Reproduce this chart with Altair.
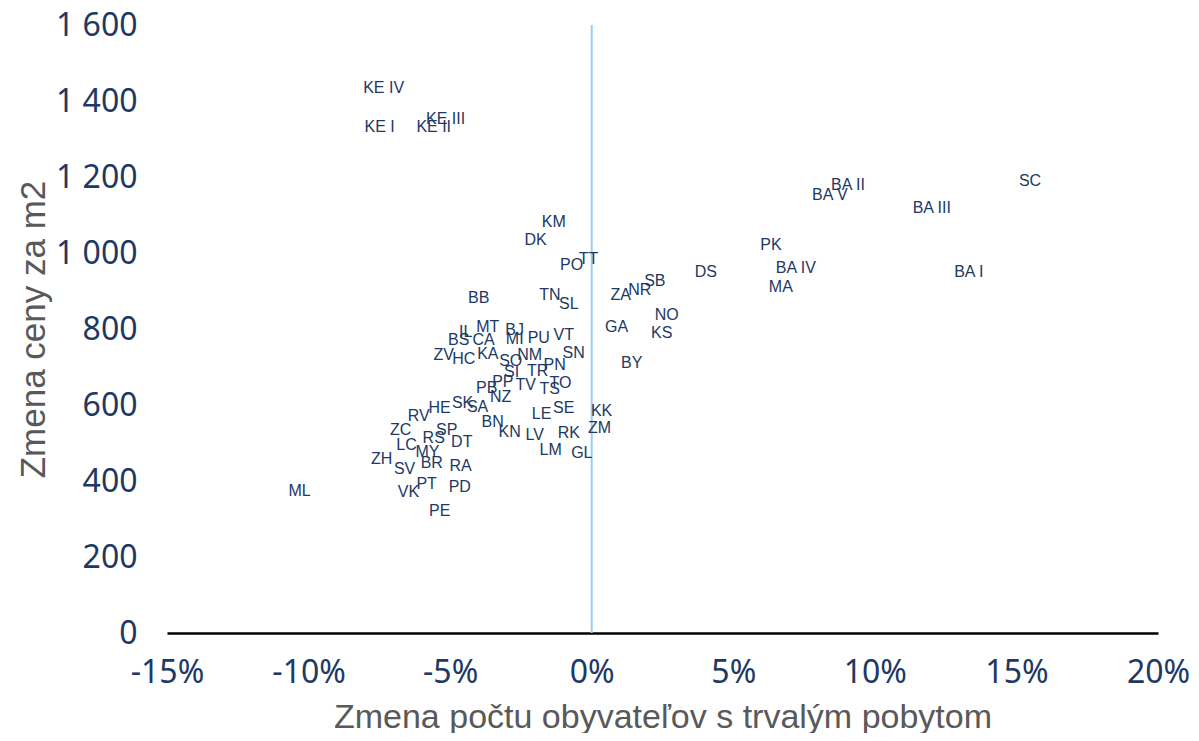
import altair as alt
import pandas as pd

labels = ["KE IV","KE I","KE III","KE II","SC","BA II","BA V","BA III","KM","DK","PK","TT","PO","DS","BA IV","BA I","MA","SB","NR","ZA","TN","SL","BB","NO","GA","KS","MT","BJ","IL","VT","BS","CA","MI","PU","SN","ZV","HC","KA","NM","SO","BY","PN","SI","TR","PP","TO","TV","PB","TS","NZ","SK","SA","HE","SE","KK","RV","LE","BN","ZM","ZC","SP","KN","RK","LV","RS","DT","LC","MY","LM","GL","ZH","BR","RA","SV","PT","PD","ML","VK","PE"]
pop_change = [-7.35,-7.49,-5.16,-5.58,15.48,9.05,8.41,12.01,-1.34,-1.98,6.33,-0.11,-0.71,4.03,7.21,13.32,6.68,2.23,1.70,1.02,-1.48,-0.81,-3.99,2.65,0.88,2.47,-3.67,-2.72,-4.45,-0.99,-4.70,-3.82,-2.72,-1.87,-0.64,-5.23,-4.52,-3.67,-2.19,-2.86,1.41,-1.31,-2.83,-1.91,-3.14,-1.10,-2.33,-3.71,-1.48,-3.22,-4.56,-4.03,-5.37,-0.99,0.35,-6.11,-1.77,-3.50,0.28,-6.75,-5.12,-2.90,-0.81,-2.01,-5.58,-4.59,-6.54,-5.80,-1.45,-0.35,-7.42,-5.65,-4.63,-6.61,-5.83,-4.66,-10.32,-6.47,-5.37]
price_change = [1434,1332,1353,1332,1189,1179,1153,1118,1082,1034,1021,984,968,950,961,950,911,926,903,889,889,866,882,837,805,789,805,797,792,784,771,771,774,776,737,732,721,734,732,716,711,705,687,689,661,658,653,645,642,621,605,595,592,592,584,571,576,555,539,534,534,529,526,521,513,503,495,476,482,474,458,447,439,432,392,384,374,371,321]

df = pd.DataFrame({"label": labels, "x": [v / 100 for v in pop_change], "y": price_change})

NAVY = "#203864"
FONT = "Liberation Sans"
TICKFONT = "Noto Sans"

xscale = alt.Scale(domain=[-0.15, 0.20], nice=False, zero=False)
yscale = alt.Scale(domain=[0, 1600], nice=False)

base = alt.Chart(df)

text = base.mark_text(fontSize=16, font=FONT, color=NAVY, align="center", baseline="middle").encode(
    x=alt.X("x:Q", scale=xscale, axis=alt.Axis(
        title="Zmena počtu obyvateľov s trvalým pobytom",
        values=[-0.15, -0.10, -0.05, 0, 0.05, 0.10, 0.15, 0.20],
        labelExpr="replace(format(datum.value, '.0%'), '−', '-')",
        labelFontSize=32, labelColor=NAVY, labelFont=TICKFONT, labelPadding=24,
        labelFlush=False, labelOverlap=False,
        ticks=False, grid=False, domainColor="#000000", domainWidth=2.5,
        titleFontSize=34, titleColor="#595959", titleFont=FONT, titleFontWeight="normal", titlePadding=12,
    )),
    y=alt.Y("y:Q", scale=yscale, axis=alt.Axis(
        title="Zmena ceny za m2",
        values=[0, 200, 400, 600, 800, 1000, 1200, 1400, 1600],
        labelExpr="replace(format(datum.value, ','), ',', ' ')",
        labelFontSize=32, labelColor=NAVY, labelFont=TICKFONT, labelPadding=30,
        labelFlush=False, labelOverlap=False,
        ticks=False, grid=False, domain=False,
        titleFontSize=35, titleColor="#595959", titleFont=FONT, titleFontWeight="normal", titlePadding=4,
    )),
    text="label:N",
)

vline = alt.Chart(pd.DataFrame({"x": [0.0]})).mark_rule(color="#9ACCF5", strokeWidth=2).encode(
    x=alt.X("x:Q", scale=xscale)
)

chart = alt.layer(vline, text).properties(
    width=991, height=608,
    autosize=alt.AutoSizeParams(type="none"),
    padding={"left": 159, "top": 17, "right": 33, "bottom": 100},
).configure_view(stroke=None)

chart.save("out.html", embed_options={"renderer": "svg", "actions": False})
